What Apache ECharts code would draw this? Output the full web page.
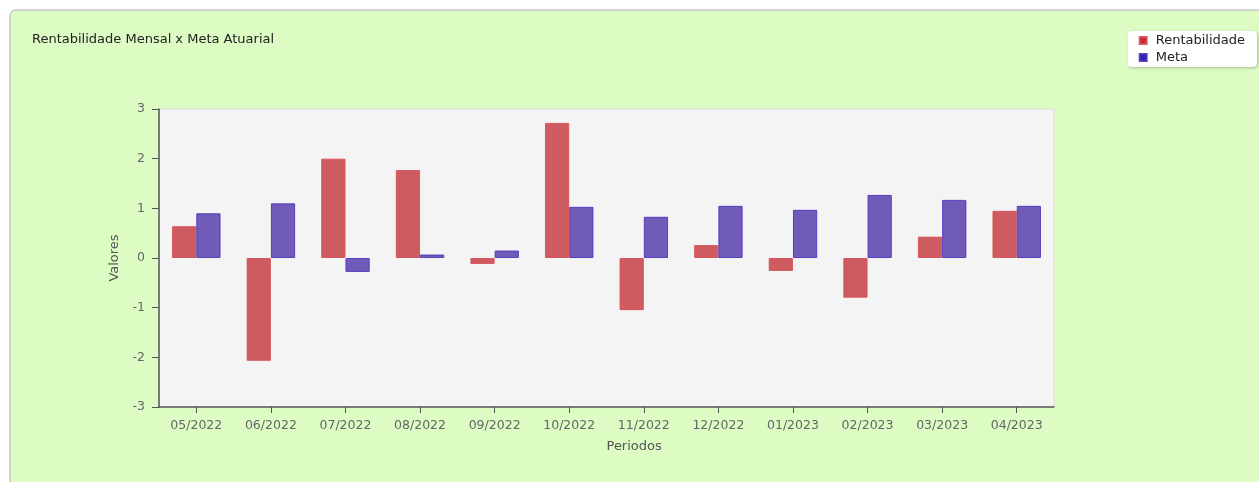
<!DOCTYPE html>
<html>
<head>
<meta charset="utf-8">
<script src="https://cdn.jsdelivr.net/npm/echarts@6/dist/echarts.min.js"></script>
<style>html,body{margin:0;padding:0;background:#fff;}#c{width:1259px;height:482px;}</style>
</head>
<body>
<div id="c"></div>
<script>
var categories = ['05/2022','06/2022','07/2022','08/2022','09/2022','10/2022','11/2022','12/2022','01/2023','02/2023','03/2023','04/2023'];
var rentabilidade = [0.64, -2.07, 2.00, 1.77, -0.12, 2.72, -1.05, 0.26, -0.26, -0.80, 0.43, 0.95];
var meta = [0.90, 1.10, -0.28, 0.07, 0.15, 1.03, 0.83, 1.05, 0.97, 1.27, 1.17, 1.05];
var yTicks = [-3, -2, -1, 0, 1, 2, 3];

var chart = echarts.init(document.getElementById('c'));
var font = 'DejaVu Sans';
chart.setOption({
  animation: false,
  textStyle: {fontFamily: font},
  graphic: [{
    type: 'rect', z: -10,
    shape: {x: 10, y: 10, width: 1262, height: 485, r: 6},
    style: {fill: '#dcfcc4', stroke: '#c8c8c8', lineWidth: 1.5}
  }],
  title: {
    text: 'Rentabilidade Mensal x Meta Atuarial',
    left: 27, top: 28,
    textStyle: {fontSize: 13, fontWeight: 'normal', color: '#222', fontFamily: font}
  },
  legend: {
    orient: 'vertical', right: 2, top: 31,
    backgroundColor: '#ffffff', borderRadius: 4,
    shadowColor: 'rgba(0,0,0,0.25)', shadowBlur: 3, shadowOffsetX: 1, shadowOffsetY: 1,
    padding: [3, 12, 3, 11],
    itemWidth: 7, itemHeight: 7, itemGap: 4,
    icon: 'rect',
    textStyle: {fontSize: 13, color: '#222', fontFamily: font, padding: [0, 0, 0, 4]},
    data: [{name: 'Rentabilidade', itemStyle: {color: '#c82828'}}, {name: 'Meta', itemStyle: {color: '#2828aa'}}]
  },
  grid: {
    left: 159, top: 109, width: 895, height: 298,
    show: true, backgroundColor: '#f4f4f4', borderColor: '#dcdcdc', borderWidth: 1
  },
  xAxis: {
    type: 'category', data: categories,
    name: 'Periodos', nameLocation: 'middle', nameGap: 33,
    nameTextStyle: {fontSize: 13, color: '#555', fontFamily: font, align: 'left'},
    axisLine: {show: true, onZero: false, lineStyle: {color: '#555', width: 1.5}},
    axisTick: {show: true, alignWithLabel: true, length: 6, lineStyle: {color: '#555'}},
    axisLabel: {fontSize: 12.5, color: '#666', margin: 12},
    splitLine: {show: false}
  },
  yAxis: {
    type: 'value', min: -3, max: 3, interval: 1,
    name: 'Valores', nameLocation: 'middle', nameGap: 38, nameRotate: 90,
    nameTextStyle: {fontSize: 13, color: '#555', fontFamily: font},
    axisLine: {show: true, lineStyle: {color: '#555', width: 1.5}},
    axisTick: {show: true, length: 7, lineStyle: {color: '#555'}},
    axisLabel: {fontSize: 12.5, color: '#666', margin: 14,
      formatter: function (v) { return yTicks.indexOf(v) >= 0 ? String(v) : ''; }},
    splitLine: {show: false}
  },
  series: [{
    name: 'Rentabilidade', type: 'bar', data: rentabilidade,
    barGap: '0%', barCategoryGap: '35%',
    itemStyle: {color: 'rgba(200,70,75,0.88)', borderColor: 'rgba(215,80,85,0.9)', borderWidth: 1}
  }, {
    name: 'Meta', type: 'bar', data: meta,
    itemStyle: {color: 'rgba(95,70,175,0.88)', borderColor: 'rgba(80,50,190,0.9)', borderWidth: 1}
  }]
});
</script>
</body>
</html>
